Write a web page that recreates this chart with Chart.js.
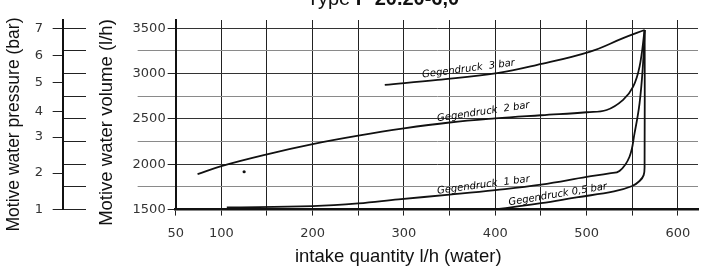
<!DOCTYPE html>
<html>
<head>
<meta charset="utf-8">
<script src="https://cdn.jsdelivr.net/npm/chart.js@4.4.0/dist/chart.umd.min.js"></script>
<style>
  html, body { margin: 0; padding: 0; background: #fff; }
  #wrap { width: 702px; height: 271px; }
</style>
</head>
<body>
<div id="wrap"><canvas id="chart"></canvas></div>
<script>
// values (intake l/h -> motive water volume l/h)
const bar3Intake = [279, 337, 402, 446, 504, 540, 563.6];
const bar3Volume = [2874, 2930, 3004, 3095, 3242, 3390, 3480];

const bar2Intake = [74, 100, 150, 200, 250, 300, 350, 400, 450, 500, 522, 540, 551, 558, 563.6];
const bar2Volume = [1890, 1980, 2110, 2222, 2315, 2395, 2460, 2505, 2540, 2573, 2598, 2710, 2856, 3076, 3480];

const bar1Intake = [106, 200, 250, 294, 350, 400, 450, 500, 525, 536, 547, 552.5, 558, 561.6, 563.6];
const bar1Volume = [1524, 1539, 1568, 1613, 1665, 1715, 1775, 1860, 1900, 1925, 2083, 2341, 2672, 3076, 3480];

const bar05Intake = [398, 450, 489, 530, 550, 558, 562.5, 563.5, 563.6];
const bar05Volume = [1500, 1571, 1635, 1700, 1760, 1815, 1880, 2000, 3480];

// the lone dot printed below the 2 bar curve
const dotIntake = [125];
const dotVolume = [1917];

const intakeTicks = [50, 100, 150, 200, 250, 300, 350, 400, 450, 500, 550, 600];
const intakeLabels = [50, 100, 200, 300, 400, 500, 600];
const volumeTicks = [1500, 1750, 2000, 2250, 2500, 2750, 3000, 3250, 3500];

// pressure scale is not linear, so each bar value sits at its own volume height
const pressureTicks = [1, 2, 3, 4, 5, 6, 7];
const pressureAtVolume = [1500, 1903, 2300, 2576, 2897, 3195, 3500];

const curveLabels = ['Gegendruck  3 bar', 'Gegendruck  2 bar', 'Gegendruck  1 bar', 'Gegendruck 0,5 bar'];
const labelIntake = [370.7, 387, 387, 468.5];
const labelVolume = [3051, 2576, 1770, 1666];
const labelAngle = [7.5, 8.4, 7.4, 9.3];

const titleNormal = 'Type ';
const titleBold = 'P 20.20-6,0';

const SANS = '"Liberation Sans", Arial, sans-serif';
const TICKFONT = { family: '"DejaVu Sans", sans-serif', size: 13 };

const curve = (label, xs, ys) => ({
    label: label,
    data: xs.map((x, i) => ({ x: x, y: ys[i] })),
    borderColor: '#111',
    borderWidth: 1.8,
    pointRadius: 0,
    tension: 0.4,
    fill: false
});

const headerPlugin = {
    id: 'header',
    afterDraw(chart) {
        const ctx = chart.ctx;
        ctx.save();
        ctx.fillStyle = '#111';
        ctx.textBaseline = 'alphabetic';
        ctx.textAlign = 'left';
        ctx.font = '20px ' + SANS;
        const w1 = ctx.measureText(titleNormal).width;
        ctx.font = 'bold 20px ' + SANS;
        const w2 = ctx.measureText(titleBold).width;
        const x0 = 383 - (w1 + w2) / 2;
        ctx.font = '20px ' + SANS;
        ctx.fillText(titleNormal, x0, 5);
        ctx.font = 'bold 20px ' + SANS;
        ctx.fillText(titleBold, x0 + w1, 5);
        ctx.restore();
    }
};

const curveLabelPlugin = {
    id: 'curveLabels',
    afterDatasetsDraw(chart) {
        const { ctx, scales: { x, y } } = chart;
        ctx.save();
        ctx.font = 'italic 10px "DejaVu Sans", sans-serif';
        ctx.fillStyle = '#000';
        ctx.textAlign = 'center';
        ctx.textBaseline = 'middle';
        curveLabels.forEach((text, i) => {
            ctx.save();
            ctx.translate(x.getPixelForValue(labelIntake[i]), y.getPixelForValue(labelVolume[i]));
            ctx.rotate(-labelAngle[i] * Math.PI / 180);
            ctx.fillText(text, 0, 0);
            ctx.restore();
        });
        ctx.restore();
    }
};

const isMajor = c => c.tick && c.tick.value % 500 === 0;

new Chart(document.getElementById('chart'), {
    type: 'line',
    data: {
        datasets: [
            curve('Gegendruck 3 bar', bar3Intake, bar3Volume),
            curve('Gegendruck 2 bar', bar2Intake, bar2Volume),
            curve('Gegendruck 1 bar', bar1Intake, bar1Volume),
            curve('Gegendruck 0,5 bar', bar05Intake, bar05Volume),
            {
                label: 'dot',
                data: dotIntake.map((x, i) => ({ x: x, y: dotVolume[i] })),
                showLine: false,
                pointRadius: 1.6,
                pointBackgroundColor: '#111',
                pointBorderWidth: 0
            }
        ]
    },
    options: {
        responsive: true,
        maintainAspectRatio: false,
        animation: false,
        layout: { padding: { top: 20, left: 0, right: 0, bottom: 0 } },
        plugins: {
            legend: { display: false },
            tooltip: { enabled: false }
        },
        scales: {
            x: {
                type: 'linear',
                min: 50,
                max: 622,
                afterBuildTicks: axis => { axis.ticks = intakeTicks.map(v => ({ value: v })); },
                ticks: {
                    callback: v => intakeLabels.includes(v) ? String(v) : '',
                    font: TICKFONT,
                    color: '#333',
                    padding: 10.7,
                    maxRotation: 0,
                    autoSkip: false
                },
                grid: { color: '#222', tickColor: '#222', tickLength: 6, lineWidth: 1 },
                border: { color: '#111', width: 2.5 },
                title: {
                    display: true,
                    text: 'intake quantity l/h (water)' + ' '.repeat(15),
                    font: { family: SANS, size: 18.5 },
                    color: '#111',
                    padding: { top: -7, bottom: 3.2 }
                }
            },
            y: {
                position: 'left',
                weight: 0,
                min: 1500,
                max: 3590,
                afterBuildTicks: axis => { axis.ticks = volumeTicks.map(v => ({ value: v })); },
                ticks: {
                    callback: v => v % 500 === 0 ? String(v) : '',
                    font: TICKFONT,
                    color: '#333',
                    padding: -28
                },
                grid: {
                    color: c => isMajor(c) ? '#333' : '#8a8a8a',
                    tickColor: c => isMajor(c) ? '#222' : '#8a8a8a',
                    tickBorderDash: c => isMajor(c) ? [0, 30, 8, 0] : [],
                    tickLength: 38,
                    lineWidth: 1
                },
                border: { color: '#111', width: 2 },
                title: {
                    display: true,
                    text: 'Motive water volume (l/h)' + ' '.repeat(3),
                    font: { family: SANS, size: 18.5 },
                    color: '#111',
                    padding: { top: 10, bottom: 42.7 }
                }
            },
            yMarks: {
                position: 'left',
                weight: 1,
                min: 1500,
                max: 3590,
                afterBuildTicks: axis => { axis.ticks = volumeTicks.map(v => ({ value: v })); },
                ticks: { display: false },
                grid: { drawOnChartArea: false, tickLength: 23, tickColor: '#222', color: '#222' },
                border: { display: false }
            },
            yP: {
                position: 'left',
                weight: 2,
                min: 1500,
                max: 3590,
                afterBuildTicks: axis => { axis.ticks = pressureAtVolume.map(v => ({ value: v })); },
                ticks: {
                    callback: (v, i) => String(pressureTicks[i]),
                    font: TICKFONT,
                    color: '#333',
                    padding: 9.7
                },
                grid: { drawOnChartArea: false, tickLength: 10, tickColor: '#222', color: '#222' },
                border: { color: '#111', width: 2 },
                title: {
                    display: true,
                    text: 'Motive water pressure (bar)' + ' '.repeat(4),
                    font: { family: SANS, size: 17.5 },
                    color: '#111',
                    padding: { top: 4, bottom: 0 }
                }
            }
        }
    },
    plugins: [headerPlugin, curveLabelPlugin]
});
</script>
</body>
</html>
